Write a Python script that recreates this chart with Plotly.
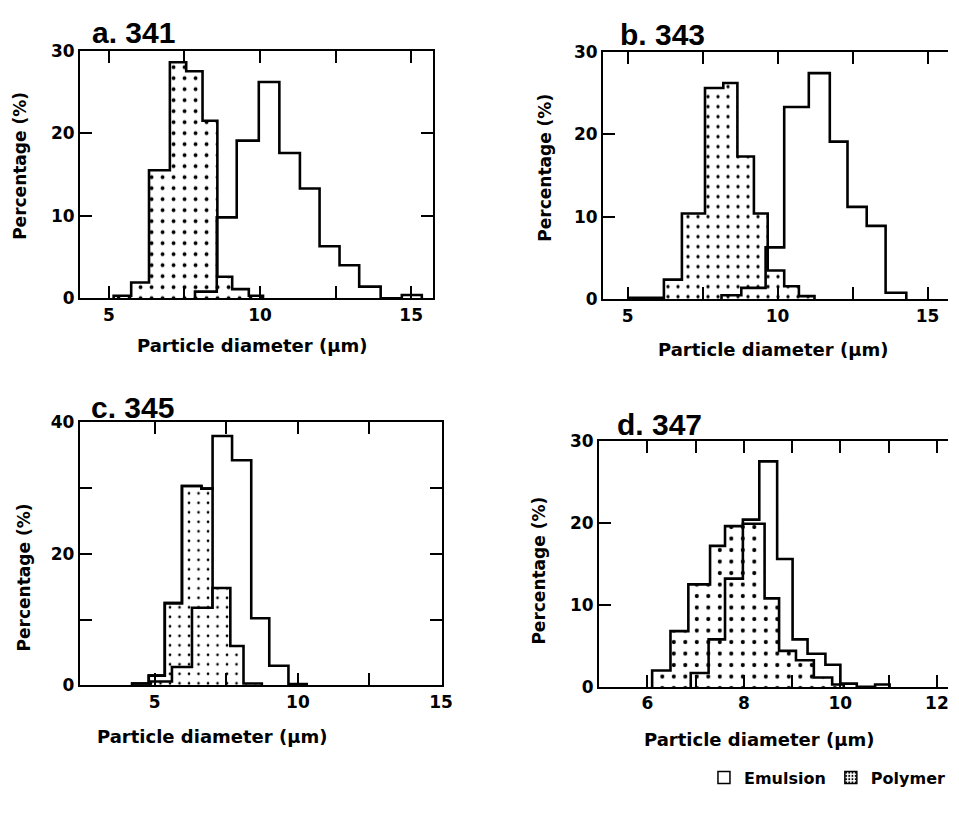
import plotly.graph_objects as go

# ---------------- data ----------------
# a. 341
a_poly_edges = [5.16, 5.74, 6.33, 7.02, 7.56, 8.10, 8.59, 9.08, 9.63, 10.10]
a_poly_pct = [0.3, 1.9, 15.5, 28.6, 27.5, 21.5, 2.6, 1.1, 0.3]
a_emul_edges = [7.85, 8.57, 9.23, 9.96, 10.64, 11.32, 11.97, 12.63, 13.28, 13.99, 14.69, 15.35]
a_emul_pct = [0.8, 9.8, 19.1, 26.2, 17.6, 13.3, 6.3, 4.0, 1.4, 0.0, 0.4]

# b. 343
b_poly_edges = [5.05, 6.21, 6.81, 7.58, 8.19, 8.66, 9.21, 9.67, 10.22, 10.71, 11.23]
b_poly_pct = [0.2, 2.4, 10.4, 25.6, 26.2, 17.3, 10.4, 3.5, 1.6, 0.4]
b_emul_edges = [8.13, 8.79, 9.60, 10.22, 11.04, 11.74, 12.33, 12.97, 13.60, 14.29]
b_emul_pct = [0.5, 1.4, 6.3, 23.3, 27.4, 19.1, 11.2, 8.9, 0.8]

# c. 345
c_emul_edges = [4.21, 4.79, 5.35, 5.95, 6.63, 7.02, 7.70, 8.37, 9.00, 9.67, 10.31]
c_emul_pct = [0.3, 1.5, 12.5, 30.3, 29.9, 37.9, 34.2, 10.2, 3.0, 0.2]
c_emul_dotted_bins = 5
c_poly_edges = [4.85, 5.60, 6.30, 7.02, 7.64, 8.10, 8.74]
c_poly_pct = [0.6, 2.8, 11.8, 14.8, 6.0, 0.3]

# d. 347
d_emul_edges = [6.10, 6.48, 6.85, 7.30, 7.61, 7.98, 8.32, 8.69, 9.01, 9.32, 9.69, 10.00, 10.34, 10.72, 11.02]
d_emul_pct = [2.0, 6.8, 12.5, 17.2, 19.6, 20.4, 27.5, 15.6, 5.8, 4.05, 2.7, 0.4, 0.0, 0.3]
d_emul_dotted_bins = 5
d_poly_edges = [6.90, 7.27, 7.61, 7.98, 8.43, 8.73, 9.08, 9.45, 9.83, 10.07]
d_poly_pct = [1.7, 5.8, 13.2, 19.9, 10.8, 4.4, 3.25, 1.15, 0.3]

panel_titles = ["a. 341", "b. 343", "c. 345", "d. 347"]
x_title = "Particle diameter (\u00b5m)"
y_title = "Percentage (%)"
series_names = ["Emulsion", "Polymer"]

x_ticks = {
    1: ([5, 7.5, 10, 12.5, 15], ["5", "", "10", "", "15"]),
    2: ([5, 7.5, 10, 12.5, 15], ["5", "", "10", "", "15"]),
    3: ([5, 7.5, 10, 12.5, 15], ["5", "", "10", "", "15"]),
    4: ([6, 7, 8, 9, 10, 11, 12], ["6", "", "8", "", "10", "", "12"]),
}
y_ticks = {
    1: ([0, 10, 20, 30], ["0", "10", "20", "30"]),
    2: ([0, 10, 20, 30], ["0", "10", "20", "30"]),
    3: ([0, 10, 20, 30, 40], ["0", "", "20", "", "40"]),
    4: ([0, 10, 20, 30], ["0", "10", "20", "30"]),
}

# ---------------- layout geometry (pixels) ----------------
W, H = 959, 813
FONT = "DejaVu Sans, Verdana, sans-serif"
TITLE_FONT = "Liberation Sans, Arial, Helvetica, sans-serif"


def fx(px):
    return px / W


def fy(py):
    return 1 - py / H


# plot boxes: (left, right, top, bottom) in px
boxes = {
    1: (81, 438, 41.7, 295.5),
    2: (610, 959, 42.7, 296.7),
    3: (80.7, 446.7, 422.5, 692.5),
    4: (606, 959, 441.7, 694),
}
x_ranges = {1: [4.05, 15.72], 2: [4.18, 15.68], 3: [2.38, 15.02], 4: [5.0, 12.23]}
y_ranges = {1: [0, 30], 2: [0, 30], 3: [0, 40], 4: [0, 30]}
dot_size = {1: 11, 2: 10, 3: 9.5, 4: 11.5}
dot_solid = {1: 0.095, 2: 0.085, 3: 0.06, 4: 0.1}


def step_xy(edges, vals):
    xs = [edges[0]] + list(edges[:-1]) + [edges[-1]]
    ys = [0] + list(vals) + [0]
    return xs, ys


fig = go.Figure()


def add_hist(panel, edges, vals, dotted, outline=True):
    xs, ys = step_xy(edges, vals)
    kw = dict(
        x=xs, y=ys, mode="lines", line_shape="hv",
        line=dict(color="black", width=2.6 if outline else 0),
        xaxis=f"x{panel}", yaxis=f"y{panel}",
        showlegend=False, hoverinfo="skip",
    )
    if dotted:
        kw.update(
            fill="tozeroy", fillcolor="white",
            fillpattern=dict(shape=".", size=dot_size[panel], solidity=dot_solid[panel],
                             fgcolor="black", bgcolor="white", fgopacity=1),
        )
    fig.add_trace(go.Scatter(**kw))


# panel a
add_hist(1, a_poly_edges, a_poly_pct, True)
add_hist(1, a_emul_edges, a_emul_pct, False)
# panel b
add_hist(2, b_poly_edges, b_poly_pct, True)
add_hist(2, b_emul_edges, b_emul_pct, False)
# panel c
add_hist(3, c_emul_edges[:c_emul_dotted_bins + 1], c_emul_pct[:c_emul_dotted_bins], True)
add_hist(3, c_poly_edges, c_poly_pct, True)
add_hist(3, c_emul_edges, c_emul_pct, False)
# panel d
add_hist(4, d_emul_edges[:d_emul_dotted_bins + 1], d_emul_pct[:d_emul_dotted_bins], True, outline=False)
add_hist(4, d_poly_edges, d_poly_pct, True)
add_hist(4, d_emul_edges, d_emul_pct, False)

# legend entries (swatches only)
fig.add_trace(go.Bar(x=[None], y=[None], name=series_names[0], xaxis="x1", yaxis="y1",
                     marker=dict(color="white", line=dict(color="black", width=1.5)),
                     showlegend=True))
fig.add_trace(go.Bar(x=[None], y=[None], name=series_names[1], xaxis="x1", yaxis="y1",
                     marker=dict(color="white", line=dict(color="black", width=1.5),
                                 pattern=dict(shape=".", size=4, solidity=0.3,
                                              fgcolor="black", bgcolor="white", fgopacity=1)),
                     showlegend=True))

tickfont = dict(family=FONT, size=17, color="black", weight="bold")
layout = dict(
    width=W, height=H, margin=dict(l=0, r=0, t=0, b=0),
    paper_bgcolor="white", plot_bgcolor="white",
    showlegend=True,
    legend=dict(orientation="h", x=fx(962), xanchor="right", y=fy(787), yanchor="middle",
                font=dict(family=FONT, size=16, color="black", weight="bold"),
                bgcolor="rgba(0,0,0,0)", itemwidth=30, tracegroupgap=0),
    annotations=[],
)

for p in range(1, 5):
    l, r, t, b = boxes[p]
    right_open = p in (2, 4)
    layout[f"xaxis{p}"] = dict(
        domain=[fx(l), fx(r)], range=x_ranges[p], anchor=f"y{p}",
        tickvals=x_ticks[p][0], ticktext=x_ticks[p][1],
        ticks="inside", ticklen=12, tickwidth=2, tickcolor="black",
        showline=True, linewidth=2, linecolor="black", mirror="ticks",
        showgrid=False, zeroline=False, tickfont=tickfont, ticklabeloverflow="allow",
    )
    layout[f"yaxis{p}"] = dict(
        domain=[fy(b), fy(t)], range=y_ranges[p], anchor=f"x{p}",
        tickvals=y_ticks[p][0], ticktext=y_ticks[p][1],
        ticks="inside", ticklen=12, tickwidth=2, tickcolor="black",
        showline=True, linewidth=2, linecolor="black",
        mirror=False if right_open else "ticks",
        showgrid=False, zeroline=False, tickfont=tickfont, ticklabeloverflow="allow",
    )
    if right_open:
        layout[f"yaxis{p + 4}"] = dict(
            overlaying=f"y{p}", side="right", anchor=f"x{p}", range=y_ranges[p],
            tickvals=y_ticks[p][0], ticks="inside", ticklen=12, tickwidth=2,
            tickcolor="black", showline=False, showticklabels=False,
            showgrid=False, zeroline=False,
        )

title_pos = {1: (91, 23), 2: (625, 25), 3: (90, 408), 4: (622, 425)}
ytitle_pos = {1: (20, 160), 2: (551, 162), 3: (24, 582), 4: (545, 575)}
xtitle_pos = {1: (255, 344), 2: (782, 348), 3: (214, 745), 4: (768, 748)}

ann = []
for p in range(1, 5):
    tx, ty = title_pos[p]
    ann.append(dict(text=panel_titles[p - 1], x=fx(tx), y=fy(ty), xref="paper", yref="paper",
                    xanchor="left", yanchor="middle", showarrow=False,
                    font=dict(family=TITLE_FONT, size=30, color="black", weight="bold")))
    yx, yy = ytitle_pos[p]
    ann.append(dict(text=y_title, x=fx(yx), y=fy(yy), xref="paper", yref="paper",
                    xanchor="center", yanchor="middle", textangle=-90, showarrow=False,
                    font=dict(family=FONT, size=17, color="black", weight="bold")))
    xx, xy = xtitle_pos[p]
    ann.append(dict(text=x_title, x=fx(xx), y=fy(xy), xref="paper", yref="paper",
                    xanchor="center", yanchor="middle", showarrow=False,
                    font=dict(family=FONT, size=18, color="black", weight="bold")))
layout["annotations"] = ann

fig.update_layout(**layout)
fig.write_html(
    "out.html",
    config={"displayModeBar": False},
    post_script="document.body.style.margin='0';document.body.style.overflow='hidden';",
)
